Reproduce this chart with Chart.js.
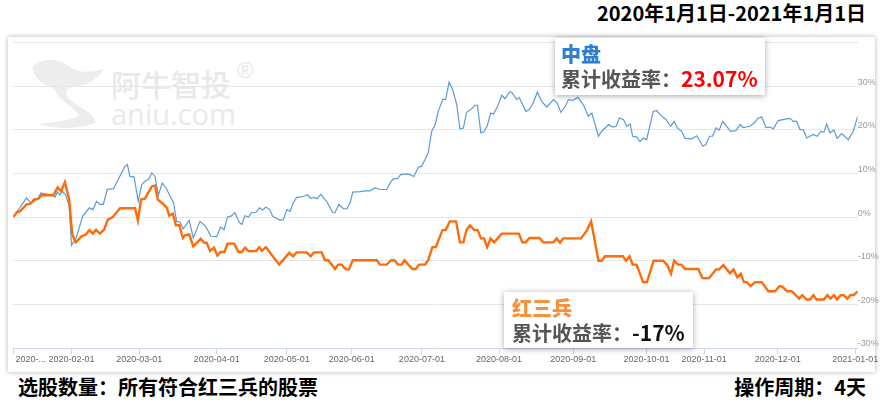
<!DOCTYPE html>
<html lang="zh">
<head>
<meta charset="utf-8">
<title>中盘 vs 红三兵</title>
<script src="https://cdn.jsdelivr.net/npm/chart.js@4.4.0/dist/chart.umd.min.js"></script>
<style>
  body { margin:0; width:886px; height:405px; position:relative; overflow:hidden; background:#fff;
         font-family:"Noto Sans CJK SC","Noto Sans",sans-serif; }
  .panel { position:absolute; left:8px; top:37px; width:867px; height:335px; background:#fff;
           box-shadow:0 0 5px rgba(0,0,0,.3); }
  .wm { position:absolute; color:#e9e9e9; white-space:nowrap; line-height:1; }
  .wm-cn { left:111px; top:68px; font-size:30px; font-weight:500; }
  .wm-en { left:111px; top:99px; font-family:"Open Sans"; font-size:29px; }
  .wm-r { left:236px; top:58px; font-family:"Open Sans"; font-size:22px; }
  .logo { position:absolute; left:0; top:0; }
  #box { position:absolute; left:0; top:37px; width:886px; height:335px; }
  .title { position:absolute; top:1px; right:20px; font-size:20px; line-height:24px; font-weight:700; color:#000; }
  .foot { position:absolute; top:375px; font-size:20px; line-height:24px; font-weight:700; color:#000; }
  .tip { position:absolute; background:#fff; box-shadow:0 1px 6px rgba(0,0,0,.35);
         font-size:20px; line-height:24px; font-weight:700; color:#555; box-sizing:border-box; }
  .tip b { display:block; }
</style>
</head>
<body>
<div class="panel"></div>
<svg class="logo" width="120" height="140">
  <path d="M32,68 C40,57 60,58 70,67 C80,74 92,72 104,69 C97,80 86,86 73,87 C66,88 63,93 70,100
           C80,108 93,112 96,122 C82,130 52,129 38,124 C56,122 74,120 79,115 C71,105 56,98 55,89
           C45,87 35,80 32,68 Z" fill="#ededed"/>
</svg>
<div class="wm wm-cn">阿牛智投</div>
<div class="wm wm-en">aniu.com</div>
<div class="wm wm-r">®</div>
<div id="box"><canvas id="chart"></canvas></div>

<div class="title">2020年1月1日-2021年1月1日</div>

<div class="tip" style="left:555px;top:38px;width:210px;height:57px;padding:4px 0 0 6px;">
  <b style="color:#2f7fd1">中盘</b>
  <span>累计收益率：</span><span style="color:#ff0000;font-size:21px">23.07%</span>
</div>
<div class="tip" style="left:504px;top:292px;width:189px;height:56px;padding:4px 0 0 8px;">
  <b style="color:#f7913c">红三兵</b>
  <span>累计收益率：</span><span style="color:#111;font-size:21px">-17%</span>
</div>

<div class="foot" style="left:18px">选股数量：所有符合红三兵的股票</div>
<div class="foot" style="right:20px">操作周期：4天</div>

<script>
// x = 交易日序号 (0 = 2020-01-02), y = 累计收益率 %
const zhongpanDays = [0,3.8,5,5.9,6.9,7.9,11.5,12,12.6,13.4,
  14,15,16,16.7,18,19.9,21.8,22.8,23.9,24.8,
  25.8,26.9,28.7,32,32.7,33.4,34.6,35.8,36.8,37.7,
  38.7,39.7,40.6,41.6,42.7,44,45.4,45.9,46.8,47.8,
  48.7,50.4,51.6,53.5,55.2,56.6,58.3,59.4,60.4,61.4,
  62.4,63.5,64.8,65.5,66.4,67.4,68.3,69.6,70.5,71.5,
  72.4,73.6,74.3,76.4,77.4,78.4,79.3,80.2,81.2,82.7,
  84.3,85.2,86.2,87.1,88.1,89.8,91.5,92.2,93.3,94.6,
  95.6,96.5,97.3,99.4,100.8,102.2,103.7,105.1,107,108.3,
  109.1,110.1,111,112.8,113.7,114.8,116.1,117,118,118.9,
  119.9,120.9,121.8,123.1,123.9,124.9,125.9,127.1,128,129,
  129.9,131.1,132.3,133,134,134.9,135.8,136.8,137.6,138.7,
  140,140.9,142.2,142.8,144.3,145,146.9,147.9,149,150.2,
  151.4,152.9,154.8,155.9,156.9,158.1,159.1,160.3,161.8,163.4,
  164.8,165.8,167.7,168.6,170.6,171.8,172.8,173.7,174.9,175.8,
  176.8,177.5,178.7,179.6,180.6,181.5,183.4,184.4,185.3,187.1,
  188.4,189.4,190.3,191.6,192.5,194.4,195.9,197.6,198.5,199.5,
  200.4,201.4,202.3,203.3,204.4,205.6,207.1,208.3,209.2,211.1,
  212.4,213.5,214.5,215.7,216.9,217.8,219.2,221.6,222.6,223.6,
  224.5,225.5,226.4,227.4,229.3,230.4,231.4,232.3,233.1,234,
  235.2,236.1,237.4,239.3,240.7,242];
const zhongpanValues = [0,4.4,3.2,4.2,4.0,5.5,4.9,4.6,5.7,5.1,
  5.9,5.1,2.5,-6.5,-4.8,0.2,2.1,1.7,3.6,2.9,
  2.9,6.3,6.5,11.6,12.0,9.3,9.2,3.6,7.4,8.2,
  8.6,10.1,9.3,5.1,7.8,6.3,4.0,3.4,-1.0,-1.2,
  -2.7,-0.8,-4.8,-1.0,-2.2,-4.4,-4.5,-2.3,-2.9,0.0,
  0.2,1.0,-1.3,-1.7,0.3,0.0,1.0,1.1,2.1,1.6,
  2.3,1.6,0.2,-0.7,-0.6,1.7,1.3,3.2,4.5,4.6,
  5.1,4.3,4.5,4.2,5.2,3.6,1.1,1.0,2.9,1.9,
  1.9,3.2,5.7,5.8,6.0,6.0,6.7,6.3,6.3,8.2,
  8.8,8.8,9.7,9.9,9.7,9.3,11.4,11.6,13.2,14.7,
  19.6,21.2,24.2,27.0,26.9,30.9,29.2,25.7,20.2,20.4,
  24.0,24.6,25.6,25.6,19.3,19.6,20.8,23.8,23.6,25.2,
  27.9,27.1,28.6,28.6,26.9,27.4,24.2,24.6,26.1,28.6,
  26.5,25.2,26.9,26.1,24.0,25.2,26.9,26.7,27.4,25.7,
  23.1,23.8,18.5,19.6,21.2,20.6,20.8,22.7,22.3,20.8,
  21.3,18.5,18.3,17.3,18.1,17.7,24.2,24.4,23.5,22.3,
  20.8,21.9,20.4,19.6,18.0,17.9,18.6,16.2,16.6,18.5,
  18.5,20.4,19.9,21.9,20.8,19.6,19.8,21.2,20.5,20.8,
  21.6,22.7,22.9,20.5,20.6,20.2,22.1,22.5,22.6,21.9,
  21.9,20.0,20.0,18.1,18.9,18.5,19.6,19.4,21.3,19.3,
  19.9,18.0,19.1,17.7,19.6,23.07];

const hongsanbingDays = [0,1,1.9,3.8,4.8,6.2,7.2,8.1,11.5,12.7,
  13.7,14.8,16,16.9,17.9,19.6,20.8,21.8,22.8,23.7,
  24.8,26,27.1,28.5,30.6,34.9,35.7,36.6,37.7,39.7,
  40.6,41.4,42.8,44,44.7,45.7,46.6,47.6,48.6,49.2,
  50.4,51.6,53.7,54.7,55.4,56.4,57.5,58.5,59.4,60.5,
  61.4,63.3,64.5,65.5,66.4,67.4,69.6,70.5,71.2,72.4,
  76.2,79.1,80.2,81.2,84.1,85.2,86.2,88.4,89.3,90.3,
  92.2,93.1,94.1,95.3,96.2,97.3,104.2,105.1,107,108.3,
  109.2,110.3,111.3,112.1,113.2,114.4,115.3,116.3,118,118.9,
  120.1,121.1,123,123.9,125.1,126.9,128,129,129.9,130.9,
  132.1,133.1,134,134.9,135.8,136.8,137.8,140,144.9,145.9,
  146.9,147.9,150.8,151.9,154.8,155.7,156.7,157.6,162.7,164.3,
  165.6,167.7,168.6,169.6,174.7,175.6,176.6,177.5,178.6,180.5,
  181.6,183.5,186.2,187.4,188.5,189.4,190.5,191.5,192.5,196.3,
  197.5,199.4,201.4,202.3,203.5,205.4,206.4,207.5,208.5,209.4,
  210.2,211.3,212.6,214.5,216.4,218.3,219.6,220.5,221.7,223.1,
  225.2,226.1,227.4,228.3,229.3,230.2,232.3,233.3,234.2,235.2,
  236.1,237.1,238,239,239.9,240.9,242];
const hongsanbingValues = [0,1.1,1.3,2.9,3.0,4.0,4.2,5.0,5.0,6.8,
  5.9,8.0,4.0,-4.0,-5.8,-4.4,-4.0,-3.0,-3.8,-2.9,
  -3.8,-2.9,-0.6,0.0,2.0,2.0,-0.8,4.0,4.2,7.0,
  7.2,4.0,3.1,2.1,0.3,0.8,-1.9,-1.9,-4.8,-4.2,
  -4.0,-6.7,-5.0,-5.9,-5.9,-7.8,-7.0,-8.8,-8.0,-8.0,
  -6.1,-6.1,-8.0,-8.0,-7.0,-7.8,-7.8,-6.9,-7.7,-6.9,
  -10.9,-8.2,-9.0,-8.1,-8.1,-9.0,-8.1,-8.1,-9.9,-9.9,
  -11.9,-10.9,-10.9,-12.0,-12.0,-9.9,-9.9,-10.9,-10.9,-9.9,
  -9.9,-10.9,-10.9,-9.9,-10.9,-11.9,-11.9,-10.9,-10.9,-9.9,
  -6.9,-6.9,-3.0,-3.0,-1.0,-1.0,-5.8,-5.8,-2.9,-1.9,
  -3.0,-3.0,-4.9,-4.9,-6.9,-4.9,-5.8,-3.8,-3.8,-5.8,
  -5.8,-4.8,-4.8,-5.8,-5.8,-4.9,-5.9,-4.9,-4.9,-3.2,
  -1.0,-10.0,-10.0,-9.0,-9.0,-10.0,-9.0,-10.9,-10.9,-14.9,
  -14.9,-10.0,-10.0,-11.0,-13.0,-10.0,-10.9,-10.9,-11.9,-11.9,
  -14.0,-14.0,-12.0,-12.0,-11.0,-12.9,-12.0,-13.8,-13.0,-14.9,
  -14.9,-15.8,-14.9,-14.9,-17.0,-17.0,-15.8,-16.0,-17.0,-17.0,
  -18.7,-17.9,-18.9,-18.9,-17.9,-18.9,-18.9,-17.9,-18.7,-17.9,
  -18.9,-17.9,-17.9,-18.7,-17.9,-17.9,-17.0];

const monthTicks = [0,16.7,36.1,58.3,78.4,97,117.1,139.2,160.5,181.5,198,219.1,241.3];
const monthLabels = ['2020-...','2020-02-01','2020-03-01','2020-04-01','2020-05-01','2020-06-01',
  '2020-07-01','2020-08-01','2020-09-01','2020-10-01','2020-11-01','2020-12-01','2021-01-01'];
const yTicks = [-30,-20,-10,0,10,20,30,40];

const toPoints = (days, vals) => days.map((d, i) => ({x: d, y: vals[i]}));
const axisColor = '#ccd6eb';

const chart = document.querySelector('#chart').getContext('2d');

new Chart(chart, {
  type: 'line',
  data: {
    datasets: [
      {
        label: '红三兵',
        data: toPoints(hongsanbingDays, hongsanbingValues),
        borderColor: '#ff6b0a',
        borderWidth: 2.4
      },
      {
        label: '中盘',
        data: toPoints(zhongpanDays, zhongpanValues),
        borderColor: '#5a9bd8',
        borderWidth: 1.2
      }
    ]
  },
  options: {
    responsive: true,
    maintainAspectRatio: false,
    animation: false,
    events: [],
    elements: { point: { radius: 0 }, line: { tension: 0 } },
    layout: { padding: { left: 13.3, top: 5, right: 0, bottom: 0 } },
    plugins: { legend: { display: false }, tooltip: { enabled: false } },
    scales: {
      x: {
        type: 'linear', min: 0, max: 242,
        afterBuildTicks: s => { s.ticks = monthTicks.map(v => ({value: v})); },
        afterFit: s => { s.height = 24; s.paddingLeft = 0; s.paddingRight = 0; },
        grid: { drawOnChartArea: false, drawTicks: true, tickLength: 6, tickColor: axisColor },
        border: { display: true, color: axisColor },
        ticks: {
          autoSkip: false, maxRotation: 0, padding: 0, color: '#666',
          font: { family: 'Liberation Sans', size: 9 },
          callback: (v, i) => i === 0 ? ' '.repeat(14) + monthLabels[0] : monthLabels[i]
        }
      },
      y: {
        position: 'right', min: -30, max: 40,
        afterBuildTicks: s => { s.ticks = yTicks.map(v => ({value: v})); },
        afterFit: s => { s.width = 28.3; },
        grid: { color: '#e6e6e6', drawTicks: false },
        border: { display: false },
        ticks: {
          padding: 0, labelOffset: -4, color: '#999',
          font: { family: 'Liberation Sans', size: 9 },
          callback: v => v === 40 ? '' : v + '%'
        }
      }
    }
  }
});
</script>
</body>
</html>
